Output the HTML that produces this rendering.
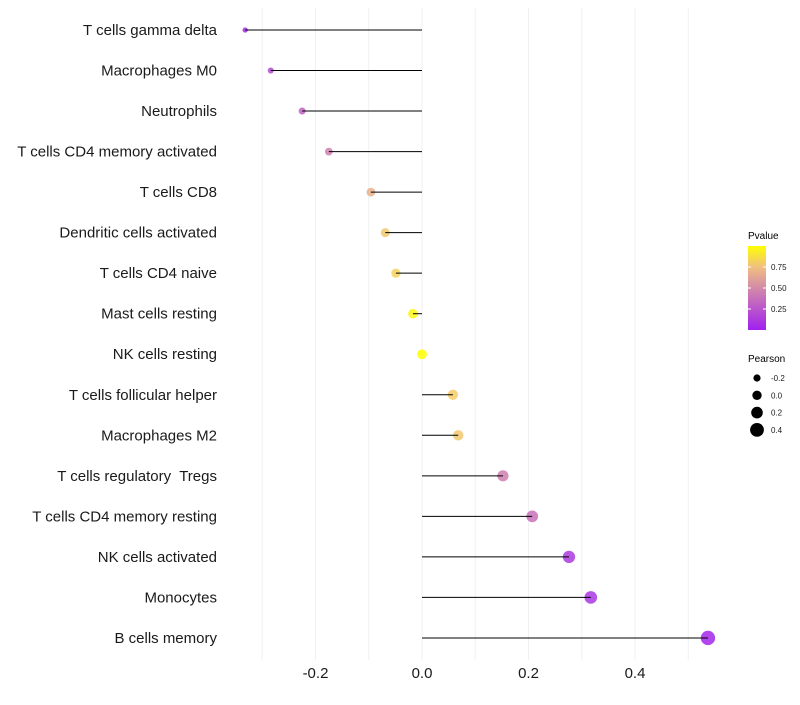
<!DOCTYPE html>
<html><head><meta charset="utf-8"><style>
body{margin:0;background:#fff;font-family:"Liberation Sans",sans-serif;}
svg text{font-family:"Liberation Sans",sans-serif;white-space:pre;}
</style></head><body>
<svg id="chart" width="800" height="700" xmlns="http://www.w3.org/2000/svg">
<defs><linearGradient id="pgrad" x1="0" y1="1" x2="0" y2="0">
<stop offset="0" stop-color="#a020f0"/><stop offset="0.5" stop-color="#d38aa8"/><stop offset="0.75" stop-color="#f0bf80"/><stop offset="1" stop-color="#ffff00"/></linearGradient></defs>
<g id="grid"></g>
<g id="marks"></g>
<g id="labels"></g>
<g id="xticks"></g>
<g>
<text x="748" y="239" font-size="10">Pvalue</text>
<rect x="748" y="246" width="18" height="84" fill="url(#pgrad)"/>
<g id="cbticks"></g>
</g>
<g id="sizeleg">
<text x="748" y="362" font-size="10">Pearson</text>
</g>
</svg>
<script>
const categories=["T cells gamma delta","Macrophages M0","Neutrophils","T cells CD4 memory activated","T cells CD8","Dendritic cells activated","T cells CD4 naive","Mast cells resting","NK cells resting","T cells follicular helper","Macrophages M2","T cells regulatory  Tregs","T cells CD4 memory resting","NK cells activated","Monocytes","B cells memory"];
const pearson=[-0.332,-0.284,-0.225,-0.175,-0.096,-0.069,-0.049,-0.017,0,0.058,0.068,0.152,0.207,0.276,0.317,0.537];
const pvalues=[0.05,0.2,0.3,0.45,0.68,0.78,0.82,0.97,1.0,0.8,0.78,0.45,0.38,0.12,0.1,0.03];
const xTicks=[-0.2,0,0.2,0.4];
const xTickLabels=["-0.2","0.0","0.2","0.4"];
const cbTicks=[0.25,0.5,0.75];
const sizeLegend=[-0.2,0,0.2,0.4];
const NS="http://www.w3.org/2000/svg";
const x=v=>422+v*532.5;
const y=i=>30+i*40.53;
const r=v=>Math.sqrt(6+(v+0.35)/0.9*46);
function mk(t,a,p){const e=document.createElementNS(NS,t);for(const k in a)e.setAttribute(k,a[k]);p.appendChild(e);return e;}
function lerp(a,b,t){return a.map((c,i)=>Math.round(c+(b[i]-c)*t));}
function col(p){const s=[[0,[160,32,240]],[0.5,[211,138,168]],[0.75,[240,191,128]],[1,[255,255,0]]];
for(let i=1;i<s.length;i++){if(p<=s[i][0]){const t=(p-s[i-1][0])/(s[i][0]-s[i-1][0]);return "rgb("+lerp(s[i-1][1],s[i][1],t).join(",")+")";}}return "rgb(255,255,0)";}
const g=document.getElementById('grid'),m=document.getElementById('marks'),lb=document.getElementById('labels'),xt=document.getElementById('xticks');
for(let v=-0.3;v<=0.55;v+=0.1){const e=mk('line',{x1:x(v),x2:x(v),y1:8,y2:660,stroke:'#f0f0f0','stroke-width':1},g);

}
categories.forEach((c,i)=>{
const d=mk('circle',{cx:x(pearson[i]),cy:y(i),r:r(pearson[i]),fill:col(pvalues[i]),'fill-opacity':0.85},m);


const l=mk('line',{x1:x(0),x2:x(pearson[i]),y1:y(i),y2:y(i),stroke:'#000','stroke-width':1},m);


const t=mk('text',{x:217,y:y(i)+5,'font-size':15,'text-anchor':'end',fill:'#1a1a1a'},lb);t.textContent=c;


});
xTicks.forEach((v,i)=>{const t=mk('text',{x:x(v),y:678,'font-size':15,'text-anchor':'middle',fill:'#1a1a1a'},xt);t.textContent=xTickLabels[i];

});
const cb=document.getElementById('cbticks');
cbTicks.forEach(v=>{const yy=330-v*84;
mk('line',{x1:748,x2:751,y1:yy,y2:yy,stroke:'#fff'},cb);mk('line',{x1:763,x2:766,y1:yy,y2:yy,stroke:'#fff'},cb);
const t=mk('text',{x:771,y:yy+3,'font-size':8,fill:'#1a1a1a'},cb);t.textContent=v.toFixed(2);

});
const sl=document.getElementById('sizeleg');
sizeLegend.forEach((v,i)=>{const yy=378+i*17.3;
const c=mk('circle',{cx:757,cy:yy,r:3.6+i*1.1,fill:'#000'},sl);


const t=mk('text',{x:771,y:yy+3,'font-size':8,fill:'#1a1a1a'},sl);t.textContent=v.toFixed(1);

});
</script>
</body></html>
